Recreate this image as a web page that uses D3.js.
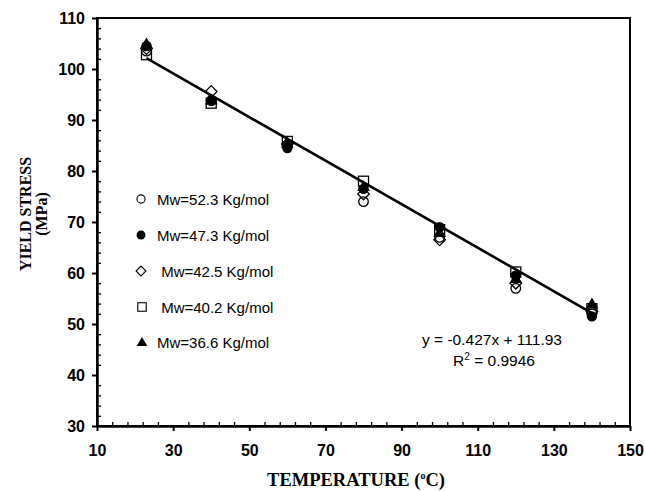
<!DOCTYPE html>
<html><head><meta charset="utf-8">
<script src="https://cdn.jsdelivr.net/npm/d3@7"></script>
<style>html,body{margin:0;padding:0;background:#fff}svg{display:block}</style>
</head><body>
<script>
const temps = [23, 40, 60, 80, 100, 120, 140];
const seriesNames = ["Mw=52.3 Kg/mol", "Mw=47.3 Kg/mol", " Mw=42.5 Kg/mol", " Mw=40.2 Kg/mol", "Mw=36.6 Kg/mol"];
const mw523 = [103.5, 93.8, 85.0, 74.0, 67.0, 57.0, 52.0];
const mw473 = [104.5, 93.8, 84.5, 76.5, 69.0, 59.5, 51.5];
const mw425 = [104.0, 95.6, 85.3, 75.5, 66.5, 58.0, 52.5];
const mw402 = [102.8, 93.3, 85.8, 78.0, 68.5, 60.2, 53.0];
const mw366 = [105.0, 94.0, 85.5, 77.0, 68.0, 59.0, 54.0];
const xTicks = [10, 30, 50, 70, 90, 110, 130, 150];
const yTicks = [30, 40, 50, 60, 70, 80, 90, 100, 110];
const slope = -0.427, intercept = 111.93;
const eqText = "y = -0.427x + 111.93";
const r2Text = " = 0.9946";

const W = 645, H = 491;
const L = 97, R = 630, T = 18, B = 426;
const svg = d3.select("body").append("svg").attr("width", W).attr("height", H);
const x = d3.scaleLinear().domain([10, 150]).range([L, R]);
const y = d3.scaleLinear().domain([30, 110]).range([B, T]);

// frame
svg.append("rect").attr("x", L).attr("y", T).attr("width", R - L).attr("height", B - T)
  .attr("fill", "none").attr("stroke", "#000").attr("stroke-width", 2);

// minor ticks (inside)
const xMinor = d3.range(10, 150.01, 4).filter(v => !xTicks.includes(v));
const yMinor = d3.range(30, 110.01, 2).filter(v => !yTicks.includes(Math.round(v)));
svg.append("g").attr("transform", `translate(0,${B})`)
  .call(d3.axisBottom(x).tickValues(xMinor).tickSize(-4).tickFormat(""))
  .call(g => g.select(".domain").remove())
  .selectAll("line").attr("stroke-width", 1.3);
svg.append("g").attr("transform", `translate(${L},0)`)
  .call(d3.axisLeft(y).tickValues(yMinor).tickSize(-4).tickFormat(""))
  .call(g => g.select(".domain").remove())
  .selectAll("line").attr("stroke-width", 1.3);

// major axes
const xAxis = svg.append("g").attr("transform", `translate(0,${B})`)
  .call(d3.axisBottom(x).tickValues(xTicks).tickSize(5).tickPadding(14).tickSizeOuter(0));
xAxis.select(".domain").attr("stroke-width", 2.5);
xAxis.selectAll("line").attr("stroke-width", 2);
xAxis.selectAll("text").attr("font-family", "Liberation Sans, Arial").attr("font-weight", "bold")
  .attr("font-size", 16).attr("fill", "#000");
const yAxis = svg.append("g").attr("transform", `translate(${L},0)`)
  .call(d3.axisLeft(y).tickValues(yTicks).tickSize(5).tickPadding(7).tickSizeOuter(0));
yAxis.select(".domain").attr("stroke-width", 2.5);
yAxis.selectAll("line").attr("stroke-width", 2);
yAxis.selectAll("text").attr("font-family", "Liberation Sans, Arial").attr("font-weight", "bold")
  .attr("font-size", 16).attr("fill", "#000");

// trendline
svg.append("line")
  .attr("x1", x(23)).attr("y1", y(slope * 23 + intercept))
  .attr("x2", x(140)).attr("y2", y(slope * 140 + intercept))
  .attr("stroke", "#000").attr("stroke-width", 2.6);

// markers
const diamondPath = (s) => `M0,${-s}L${s},0L0,${s}L${-s},0Z`;
const trianglePath = (s) => `M0,${-s}L${s * 1.05},${s * 0.8}L${-s * 1.05},${s * 0.8}Z`;
const markerDefs = [
  {vals: mw523, draw: g => g.append("circle").attr("r", 4.8).attr("fill", "none").attr("stroke", "#000").attr("stroke-width", 1.3)},
  {vals: mw473, draw: g => g.append("circle").attr("r", 5.2).attr("fill", "#000")},
  {vals: mw425, draw: g => g.append("path").attr("d", diamondPath(5.8)).attr("fill", "none").attr("stroke", "#000").attr("stroke-width", 1.3)},
  {vals: mw402, draw: g => g.append("rect").attr("x", -5).attr("y", -5).attr("width", 10).attr("height", 10).attr("fill", "none").attr("stroke", "#000").attr("stroke-width", 1.3)},
  {vals: mw366, draw: g => g.append("path").attr("d", trianglePath(6)).attr("fill", "#000")}
];
markerDefs.forEach(m => {
  const gs = svg.append("g").selectAll("g").data(temps.map((t, i) => [t, m.vals[i]])).join("g")
    .attr("transform", d => `translate(${x(d[0])},${y(d[1])})`);
  gs.each(function() { m.draw(d3.select(this)); });
});

// legend
const legY = [199, 235, 271, 307, 342];
const legMX = [141, 141, 141, 142, 142];
const legTX = [157, 157, 157, 157, 157];
const legendScale = 0.85;
markerDefs.forEach((m, i) => {
  const g = svg.append("g").attr("transform", `translate(${legMX[i]},${legY[i]}) scale(${legendScale})`);
  m.draw(g);
  svg.append("text").attr("x", legTX[i]).attr("y", legY[i] + 5.5)
    .attr("font-family", "Liberation Sans, Arial").attr("font-size", 15).attr("fill", "#000")
    .attr("xml:space", "preserve").style("white-space", "pre")
    .text(seriesNames[i]);
});

// equation
svg.append("text").attr("x", 492).attr("y", 345).attr("text-anchor", "middle")
  .attr("font-family", "Liberation Sans, Arial").attr("font-size", 15.5).attr("fill", "#000")
  .text(eqText);
const r2 = svg.append("text").attr("x", 494).attr("y", 366).attr("text-anchor", "middle")
  .attr("font-family", "Liberation Sans, Arial").attr("font-size", 15.5).attr("fill", "#000");
r2.append("tspan").text("R");
r2.append("tspan").attr("dy", -6).attr("font-size", 10).text("2");
r2.append("tspan").attr("dy", 6).style("white-space", "pre").text(r2Text);

// axis titles
const xt = svg.append("text").attr("x", 356).attr("y", 486).attr("text-anchor", "middle")
  .attr("font-family", "Liberation Serif, Times New Roman").attr("font-weight", "bold")
  .attr("font-size", 18.5).attr("fill", "#000");
xt.append("tspan").text("TEMPERATURE (");
xt.append("tspan").attr("dy", -7).attr("font-size", 10).text("o");
xt.append("tspan").attr("dy", 7).text("C)");

svg.append("text").attr("transform", "translate(31,214) rotate(-90)").attr("text-anchor", "middle")
  .attr("font-family", "Liberation Serif, Times New Roman").attr("font-weight", "bold")
  .attr("font-size", 16).attr("fill", "#000").text("YIELD STRESS");
svg.append("text").attr("transform", "translate(47,214) rotate(-90)").attr("text-anchor", "middle")
  .attr("font-family", "Liberation Serif, Times New Roman").attr("font-weight", "bold")
  .attr("font-size", 16).attr("fill", "#000").text("(MPa)");
</script>
</body></html>
